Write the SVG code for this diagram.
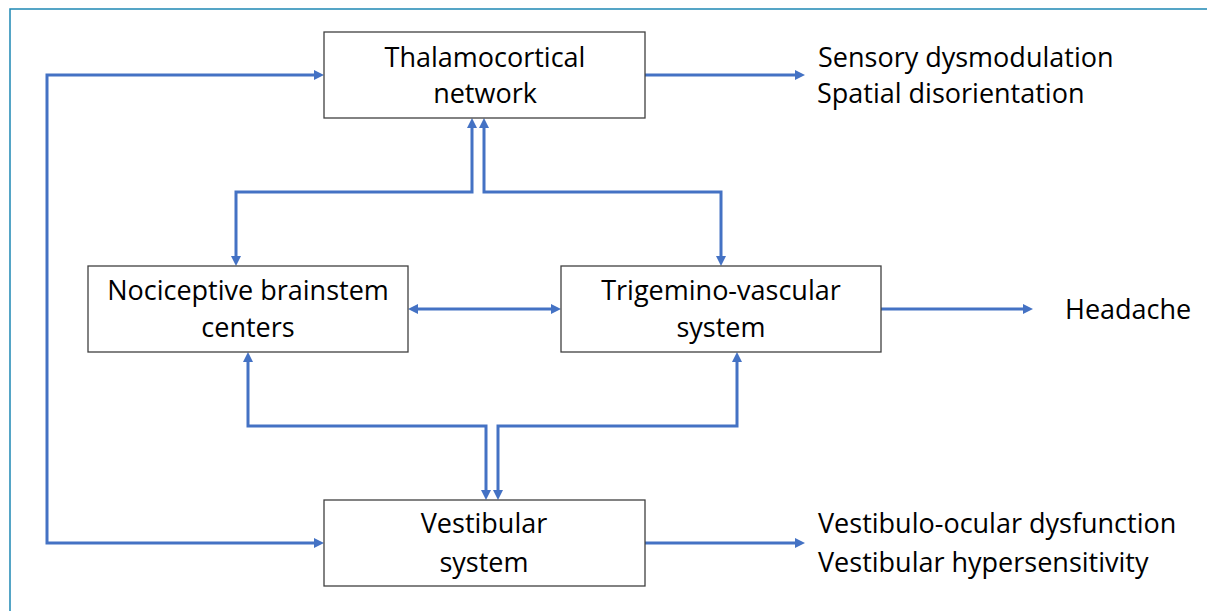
<svg xmlns="http://www.w3.org/2000/svg" width="1207" height="611" viewBox="0 0 1207 611">
  <style>
    .box { fill: #ffffff; stroke: #404040; stroke-width: 1.3; }
    .lbl { font-family: "Open Sans", "Liberation Sans", sans-serif; font-size: 27px; fill: #000000; }
    .mid { text-anchor: middle; }
    .conn { fill: none; stroke: #4472C4; stroke-width: 3; }
  </style>
  <defs>
    <marker id="arr" markerUnits="userSpaceOnUse" markerWidth="10" markerHeight="10" refX="3" refY="5" orient="auto-start-reverse" viewBox="0 0 10 10">
      <path d="M0,0 L10,5 L0,10 z" fill="#4472C4"/>
    </marker>
  </defs>
  <rect x="0" y="0" width="1207" height="611" fill="#ffffff"/>
  <rect x="10" y="9" width="1220" height="640" fill="none" stroke="#1E88B4" stroke-width="1.5"/>

  <g id="connectors">
    <path class="conn" d="M317,543 H47 V75 H317" marker-start="url(#arr)" marker-end="url(#arr)"/>
    <path class="conn" d="M472,125 V192 H236 V259" marker-start="url(#arr)" marker-end="url(#arr)"/>
    <path class="conn" d="M484,125 V192 H721 V259" marker-start="url(#arr)" marker-end="url(#arr)"/>
    <path class="conn" d="M415,309 H554" marker-start="url(#arr)" marker-end="url(#arr)"/>
    <path class="conn" d="M248,359 V426 H486 V493" marker-start="url(#arr)" marker-end="url(#arr)"/>
    <path class="conn" d="M737,359 V426 H498 V493" marker-start="url(#arr)" marker-end="url(#arr)"/>
    <path class="conn" d="M645,75 H798" marker-end="url(#arr)"/>
    <path class="conn" d="M881,309 H1026" marker-end="url(#arr)"/>
    <path class="conn" d="M645,543 H798" marker-end="url(#arr)"/>
  </g>

  <g id="thalamocortical">
    <rect class="box" x="324" y="32" width="321" height="86"/>
    <text class="lbl mid" x="485" y="66.5">Thalamocortical</text>
    <text class="lbl mid" x="485" y="103">network</text>
  </g>
  <g id="nociceptive">
    <rect class="box" x="88" y="266" width="320" height="86"/>
    <text class="lbl mid" x="248" y="300">Nociceptive brainstem</text>
    <text class="lbl mid" x="248" y="336.5">centers</text>
  </g>
  <g id="trigemino">
    <rect class="box" x="561" y="266" width="320" height="86"/>
    <text class="lbl mid" x="721" y="300">Trigemino-vascular</text>
    <text class="lbl mid" x="721" y="336.5">system</text>
  </g>
  <g id="vestibular">
    <rect class="box" x="324" y="500" width="321" height="86"/>
    <text class="lbl mid" x="484" y="533">Vestibular</text>
    <text class="lbl mid" x="484" y="571.5">system</text>
  </g>
  <g id="thal-outputs">
    <text class="lbl" x="818" y="66.5">Sensory dysmodulation</text>
    <text class="lbl" x="817" y="103">Spatial disorientation</text>
  </g>
  <g id="headache">
    <text class="lbl" x="1065" y="319">Headache</text>
  </g>
  <g id="vest-outputs">
    <text class="lbl" x="818" y="533">Vestibulo-ocular dysfunction</text>
    <text class="lbl" x="818" y="571.5">Vestibular hypersensitivity</text>
  </g>
</svg>
